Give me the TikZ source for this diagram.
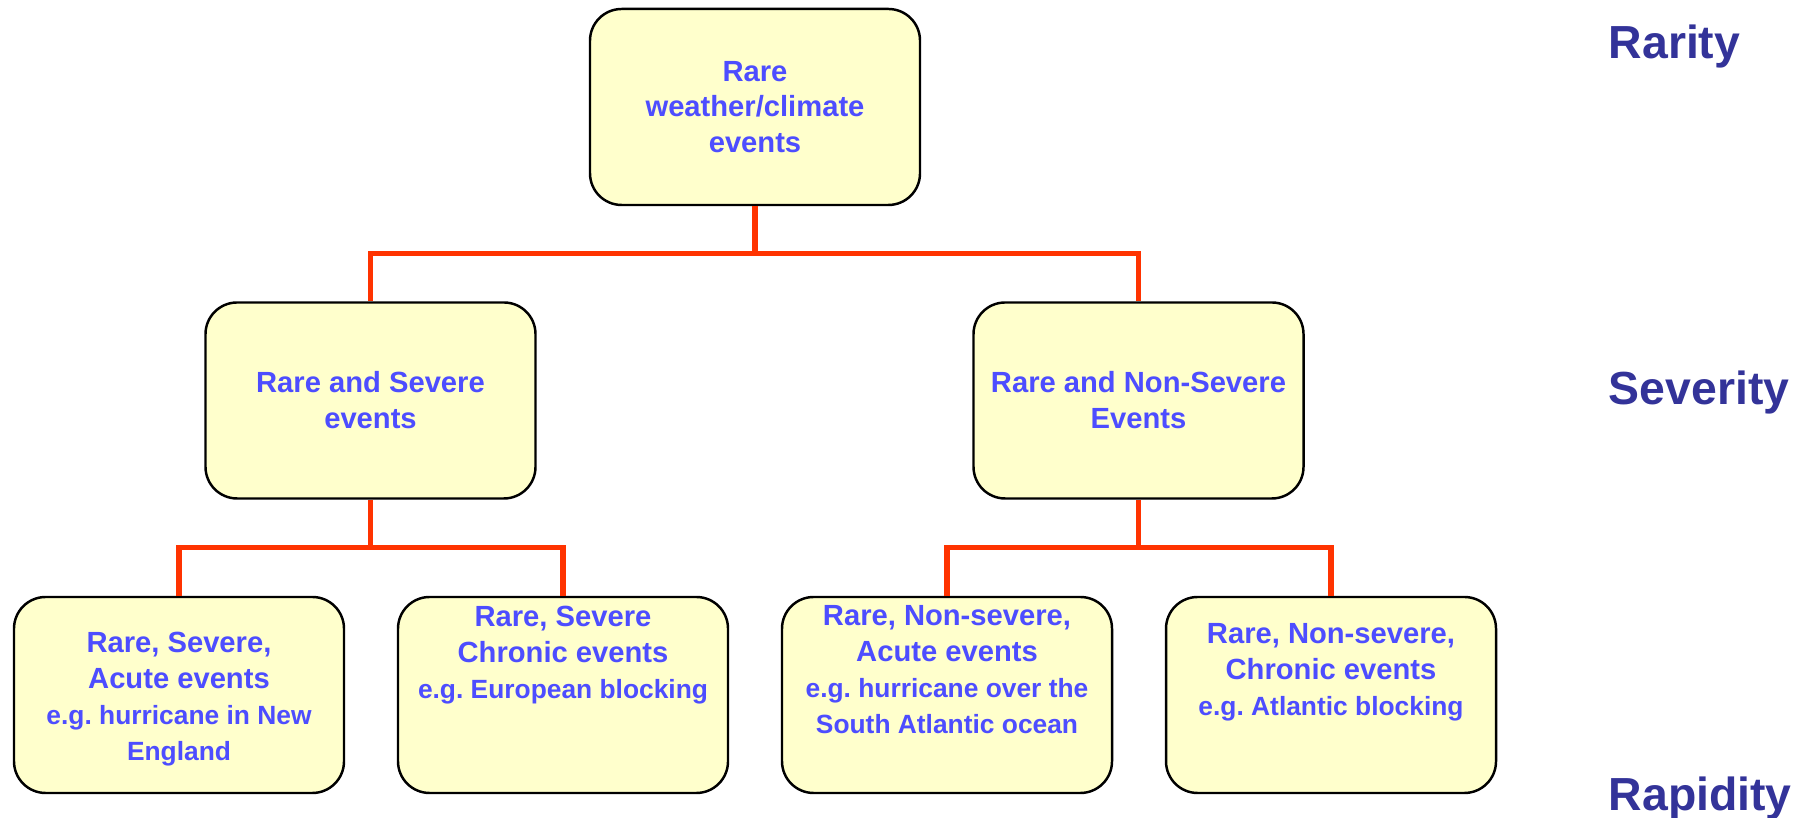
\documentclass[tikz,border=0pt]{standalone}
\usepackage{fontspec}
\setmainfont{Liberation Sans}
\usetikzlibrary{positioning, calc}

\definecolor{boxfill}{HTML}{FFFFCC}
\definecolor{evblue}{HTML}{4D4DFF}
\definecolor{axisblue}{HTML}{333399}
\definecolor{linkred}{HTML}{FF3300}

\newcommand{\egfont}{\fontsize{7.5}{9.2}\selectfont}
\frenchspacing

\begin{document}
\begin{tikzpicture}[
  evbox/.style={
    rectangle, draw=black, line width=0.7pt, fill=boxfill,
    rounded corners=9pt, minimum width=3.30cm,
    minimum height=1.96cm, inner sep=0pt
  },
  evtext/.style={
    align=center, text=evblue, inner sep=0pt,
    font=\fontsize{8.3}{10.2}\selectfont\bfseries
  },
  axislabel/.style={
    anchor=base west, text=axisblue, inner sep=0pt,
    font=\fontsize{13.2}{15}\selectfont\bfseries
  },
  link/.style={draw=linkred, line width=1.5pt},
]
\useasboundingbox (0,0) rectangle (18.08,8.18);

%% ── Tree boxes ───────────────────────────────────────────────────────────────
\node[evbox, evtext] (rare) at (7.55, 7.11) {Rare\\weather/climate\\events};

\node[evbox, evtext] (sev)  at (3.705, 4.175) {Rare and Severe\\events};
\node[evbox, evtext] (nsev) at (11.385, 4.175) {Rare and Non-Severe\\Events};

\node[evbox] (sa) at (1.79, 1.23) {};
\node[evbox] (sc) at (5.63, 1.23) {};
\node[evbox] (na) at (9.47, 1.23) {};
\node[evbox] (nc) at (13.31, 1.23) {};

% leaf texts sit a little high in their boxes
\node[evtext] (sa-txt) at ([yshift=-0.04cm]sa.center)
  {Rare, Severe,\\Acute events\\ \egfont e.g. hurricane in New\\ \egfont England};
\node[evtext] (sc-txt) at ([yshift=0.40cm]sc.center)
  {Rare, Severe\\Chronic events\\ \egfont e.g. European blocking};
\node[evtext] (na-txt) at ([yshift=0.255cm]na.center)
  {Rare, Non-severe,\\Acute events\\ \egfont e.g. hurricane over the\\ \egfont South Atlantic ocean};
\node[evtext] (nc-txt) at ([yshift=0.23cm]nc.center)
  {Rare, Non-severe,\\Chronic events\\ \egfont e.g. Atlantic blocking};

%% ── Connectors ───────────────────────────────────────────────────────────────
\draw[link] (rare.south) |- ($(rare.south)!0.5!(sev.north)$) -| (sev.north);
\draw[link] (rare.south) |- ($(rare.south)!0.5!(nsev.north)$) -| (nsev.north);

\draw[link] (sev.south) |- ($(sev.south)!0.5!(sa.north)$) -| (sa.north);
\draw[link] (sev.south) |- ($(sev.south)!0.5!(sc.north)$) -| (sc.north);

\draw[link] (nsev.south) |- ($(nsev.south)!0.5!(na.north)$) -| (na.north);
\draw[link] (nsev.south) |- ($(nsev.south)!0.5!(nc.north)$) -| (nc.north);

%% ── Level labels ─────────────────────────────────────────────────────────────
\node[axislabel] (rarity)   at (16.08, 7.59) {Rarity};
\node[axislabel] (severity) at (16.08, 4.13) {Severity};
\node[axislabel] (rapidity) at (16.08, 0.07) {Rapidity};

\end{tikzpicture}
\end{document}
